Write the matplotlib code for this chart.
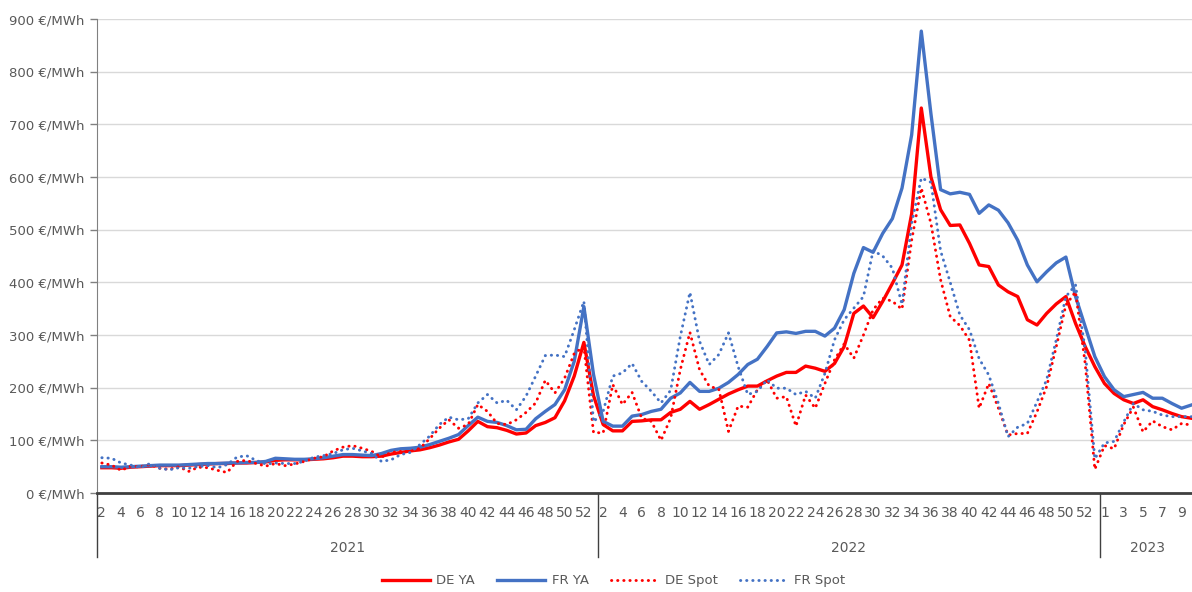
import matplotlib
matplotlib.use('Agg')
import matplotlib.pyplot as plt
import matplotlib.transforms as mtransforms

# categories: weeks per year (2021 and 2022 start at week 2)
years = ['2021', '2022', '2023']
weeks_2021 = list(range(2, 54))
weeks_2022 = list(range(2, 54))
weeks_2023 = list(range(1, 11))

# €/MWh, weekly values
de_ya = [48, 48, 47, 49, 50, 51, 52, 52, 52, 53, 54, 55, 56, 56, 57, 57, 58, 59, 62, 63, 63, 63, 64, 65, 67,
         70, 70, 69, 69, 70, 74, 77, 80, 82, 86, 91, 97, 102, 118, 136, 126, 124, 119, 112, 114, 128, 134, 143, 175, 222, 286, 185,
         130, 118, 118, 136, 137, 139, 139, 153, 159, 174, 159, 168, 178, 188, 196, 203, 203, 213, 222, 229, 229,
         241, 237, 231, 246, 278, 341, 355, 333, 364, 398, 433, 530, 731, 600, 538, 508, 509, 474, 433, 430, 395,
         382, 373, 329, 319, 341, 359, 373, 322, 278, 240, 208, 189, 177, 170, 177, 164, 158, 151, 145, 142]

fr_ya = [50, 50, 49, 50, 51, 52, 53, 53, 53, 54, 55, 56, 56, 57, 57, 58, 58, 60, 66, 65, 64, 64, 65, 67, 70,
         73, 73, 72, 71, 75, 81, 84, 85, 87, 92, 98, 104, 111, 128, 144, 136, 134, 128, 120, 121, 141, 155, 168, 196, 250, 354, 225,
         136, 127, 127, 146, 149, 155, 159, 180, 190, 210, 193, 193, 199, 210, 225, 244, 254, 278, 304, 306, 303,
         307, 307, 298, 313, 348, 417, 466, 457, 493, 521, 579, 680, 877, 720, 576, 568, 571, 567, 531, 547, 537,
         513, 480, 433, 401, 420, 437, 448, 373, 316, 259, 221, 196, 183, 187, 191, 180, 180, 170, 161, 167]

de_spot = [57, 53, 43, 51, 50, 54, 47, 45, 50, 41, 49, 48, 43, 39, 60, 62, 56, 51, 56, 52, 55, 60, 66, 69, 80,
           87, 90, 85, 79, 68, 77, 79, 79, 85, 103, 123, 139, 123, 130, 168, 155, 132, 130, 139, 153, 171, 214, 190, 218, 265, 278, 115,
           114, 206, 168, 191, 142, 136, 100, 142, 234, 305, 234, 203, 197, 117, 165, 163, 196, 215, 180, 183, 127,
           186, 161, 208, 253, 283, 256, 300, 348, 370, 364, 349, 480, 579, 512, 405, 335, 318, 290, 161, 208, 161,
           110, 113, 113, 154, 202, 278, 357, 382, 246, 45, 90, 84, 130, 163, 116, 137, 126, 120, 132, 129]

fr_spot = [67, 66, 57, 53, 48, 56, 47, 44, 48, 47, 50, 52, 48, 54, 68, 71, 62, 55, 57, 56, 56, 60, 68, 71, 75,
           82, 85, 80, 75, 60, 63, 73, 77, 92, 108, 130, 144, 139, 141, 171, 187, 171, 176, 158, 184, 222, 261, 262, 259, 310, 364, 135,
           155, 222, 228, 246, 212, 193, 171, 195, 297, 381, 288, 244, 263, 304, 240, 187, 193, 215, 199, 199, 187,
           193, 180, 227, 291, 329, 351, 373, 460, 450, 427, 358, 512, 598, 590, 460, 400, 338, 310, 255, 224, 170,
           107, 125, 132, 173, 215, 291, 373, 395, 272, 65, 95, 98, 135, 170, 158, 155, 148, 145, 145, 145]

RED = '#FF0000'
BLUE = '#4472C4'
GREY = '#595959'

week_labels = weeks_2021 + weeks_2022 + weeks_2023
year_sizes = [len(weeks_2021), len(weeks_2022), len(weeks_2023)]
x = list(range(len(week_labels)))

fig = plt.figure(figsize=(11.92, 5.92), dpi=100)
ax = fig.add_axes([0.0814, 0.1672, 0.922, 0.8007])

dots = (0, (0.1, 2.0))
ax.plot(x, de_ya, color=RED, lw=2.4, label='DE YA', solid_joinstyle='round')
ax.plot(x, fr_ya, color=BLUE, lw=2.4, label='FR YA', solid_joinstyle='round')
ax.plot(x, de_spot, color=RED, lw=2.1, ls=dots, dash_capstyle='round', label='DE Spot')
ax.plot(x, fr_spot, color=BLUE, lw=2.1, ls=dots, dash_capstyle='round', label='FR Spot')

ax.set_xlim(-0.5, len(x) - 0.5)
ax.set_ylim(0, 900)
yt = list(range(0, 901, 100))
ax.set_yticks(yt)
ax.set_yticklabels([f'{v} €/MWh' for v in yt])
ax.yaxis.grid(True, color='#d9d9d9', lw=1)
ax.set_axisbelow(True)

ax.set_xticks(x[::2])
ax.set_xticklabels([str(w) for w in week_labels[::2]])
ax.tick_params(axis='x', length=0, pad=9, labelsize=10, colors=GREY)
ax.tick_params(axis='y', length=5, width=1, color='#808080', pad=4, labelsize=9.5, labelcolor=GREY)

for s in ['top', 'right']:
    ax.spines[s].set_visible(False)
ax.spines['left'].set_color('#808080')
ax.spines['bottom'].set_color('#404040')
ax.spines['bottom'].set_linewidth(2)

# multi-level category axis: year separators and year labels
trans = mtransforms.blended_transform_factory(ax.transData, ax.transAxes)
start = -0.5
for year, n in zip(years, year_sizes):
    ax.plot([start, start], [0, -0.135], transform=trans, color='#404040', lw=1, clip_on=False)
    ax.text(start + n / 2, -0.116, year, transform=trans, ha='center', va='center',
            fontsize=10, color=GREY)
    start += n

fig.legend(loc='center', bbox_to_anchor=(0.515, 0.0186), ncol=4, frameon=False,
           handlelength=3.6, handletextpad=0.5, columnspacing=1.7, fontsize=9.5,
           labelcolor=GREY)

fig.savefig('out.png', dpi=100)
